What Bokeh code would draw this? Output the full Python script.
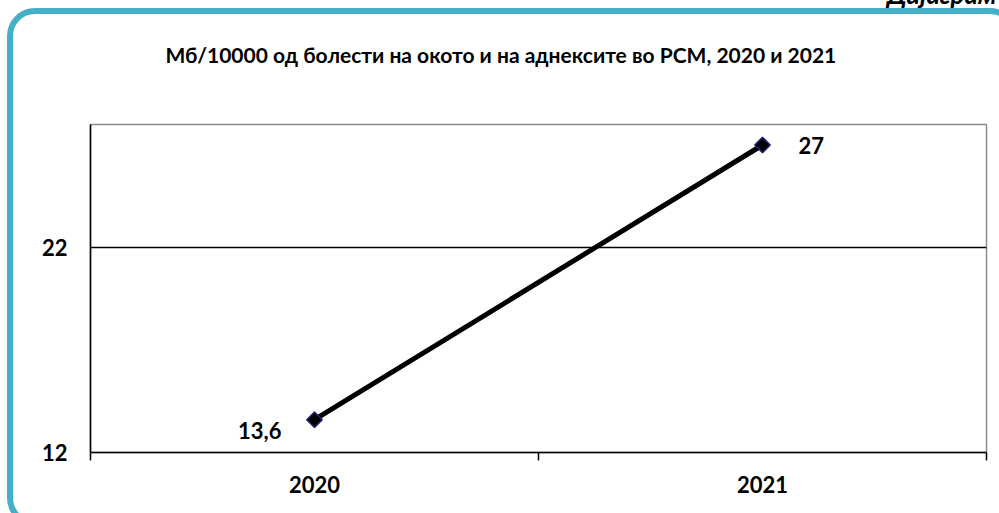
import numpy as np
from bokeh.plotting import figure
from bokeh.models import (Range1d, FixedTicker, ColumnDataSource, LabelSet,
                          Title, InlineStyleSheet)
from bokeh.core.properties import value
from bokeh.embed import file_html
from bokeh.resources import INLINE

# ---- data ----
title_text = "Мб/10000 од болести на окото и на аднексите во РСМ, 2020 и 2021"
corner_text = "Дијаграм 1"
years = ["2020", "2021"]
values = [13.6, 27]
value_labels = ["13,6", "27"]
y_ticks = [12, 22]
y_min, y_max = 12, 28

FONT = "Lato"
TEAL = "#45AFC7"

xs = [i + 0.5 for i in range(len(years))]
src = ColumnDataSource(dict(x=xs, y=values, lab=value_labels,
                            xo=[-33, 36], yo=[-11, 0],
                            align=["right", "left"]))

p = figure(width=999, height=513, output_backend="svg", toolbar_location=None,
           title=None,
           x_range=Range1d(0, len(years)), y_range=Range1d(y_min, y_max),
           min_border_left=90, min_border_right=13, min_border_top=124,
           min_border_bottom=61)

# spacer panel between the frame and the chart title
spacer = Title(text=" ", text_font_size="1px", standoff=53)
p.add_layout(spacer, "above")
main_title = Title(text=title_text, align="left", offset=75,
                   text_font=FONT, text_font_size="21px",
                   text_font_style="bold", text_color="black", standoff=4)
p.add_layout(main_title, "above")

p.background_fill_color = "white"
p.border_fill_color = "white"
p.outline_line_color = "#8a8a8a"
p.outline_line_width = 1.5

# x axis
p.xaxis.ticker = FixedTicker(ticks=xs, minor_ticks=list(range(len(years) + 1)))
p.xaxis.major_label_overrides = {x: y for x, y in zip(xs, years)}
p.xaxis.major_tick_out = 0
p.xaxis.major_tick_in = 0
p.xaxis.minor_tick_out = 8
p.xaxis.minor_tick_in = 0
p.xaxis.minor_tick_line_color = "black"
p.xaxis.minor_tick_line_width = 1.5
p.xaxis.axis_line_color = "black"
p.xaxis.axis_line_width = 1.5
p.xaxis.major_label_standoff = 15
p.xaxis.major_label_text_font = FONT
p.xaxis.major_label_text_font_size = "22px"
p.xaxis.major_label_text_font_style = "bold"
p.xaxis.major_label_text_color = "black"

# y axis
p.yaxis.ticker = FixedTicker(ticks=y_ticks)
p.yaxis.major_tick_out = 0
p.yaxis.major_tick_in = 0
p.yaxis.minor_tick_out = 0
p.yaxis.minor_tick_in = 0
p.yaxis.axis_line_color = "black"
p.yaxis.axis_line_width = 1.5
p.yaxis.major_label_standoff = 23
p.yaxis.major_label_text_font = FONT
p.yaxis.major_label_text_font_size = "22px"
p.yaxis.major_label_text_font_style = "bold"
p.yaxis.major_label_text_color = "black"

p.xgrid.grid_line_color = None
p.ygrid.grid_line_color = "black"
p.ygrid.grid_line_width = 1.5

p.line("x", "y", source=src, line_color="black", line_width=5)
p.scatter("x", "y", source=src, marker="square", size=11, angle=np.pi / 4,
          fill_color="black", line_color="#23237a", line_width=1.5)

labels = LabelSet(x="x", y="y", text="lab", source=src, x_offset="xo",
                  y_offset="yo", text_align="align", text_baseline="middle",
                  text_font=value(FONT), text_font_size=value("22px"),
                  text_font_style=value("bold"), text_color="black")
p.add_layout(labels)

# rounded teal frame around the whole chart, and the page caption cut by the top edge
p.stylesheets = [InlineStyleSheet(css=f"""
:host {{ overflow: hidden; position: relative; }}
:host::before {{ content: "{corner_text}"; position: absolute; left: 887px; top: -19px;
  font: italic bold 26px Lato; line-height: 26px; color: black; white-space: nowrap;
  z-index: 10; pointer-events: none; }}
:host::after {{ content: ""; position: absolute; left: 7px; top: 8px;
  width: 1011px; height: 518px; border: 6px solid {TEAL}; border-radius: 28px;
  box-sizing: border-box; pointer-events: none; z-index: 10; }}
""")]

open("out.html", "w").write(file_html(p, INLINE))
